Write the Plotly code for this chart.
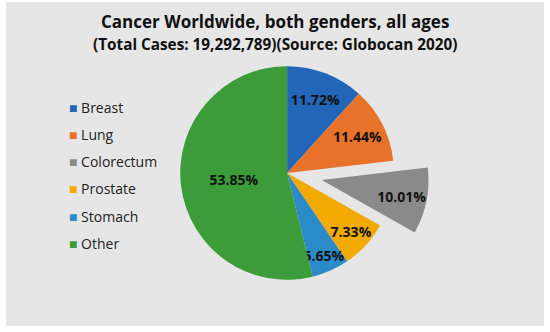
import plotly.graph_objects as go

categories = ["Breast", "Lung", "Colorectum", "Prostate", "Stomach", "Other"]
values = [11.72, 11.44, 10.01, 7.33, 5.65, 53.85]
pulls = [0, 0, 0.33, 0, 0, 0]
colors = ["#2266b8", "#e8722a", "#8a8a8a", "#f2aa00", "#2a8bc8", "#3c9c3a"]

W, H = 550, 332
FONT = "Open Sans"

fig = go.Figure()
fig.add_trace(go.Pie(
    labels=categories,
    values=values,
    pull=pulls,
    sort=False,
    direction="clockwise",
    rotation=0,
    marker=dict(colors=colors, line=dict(width=0)),
    texttemplate="<b>%{value:.2f}%</b>",
    textposition="inside",
    insidetextorientation="horizontal",
    textfont=dict(family=FONT, size=14, color="#111111"),
    hoverinfo="label+value",
    showlegend=False,
    domain=dict(x=[0.263, 0.781], y=[0.051, 0.907]),
))

annotations = [
    dict(text="<b>Cancer Worldwide, both genders, all ages</b>",
         x=0.5, y=1 - 21 / H, xref="paper", yref="paper", yanchor="middle",
         showarrow=False, font=dict(family=FONT, size=17, color="#111111")),
    dict(text="<b>(Total Cases: 19,292,789)(Source: Globocan 2020)</b>",
         x=0.5, y=1 - 44 / H, xref="paper", yref="paper", yanchor="middle",
         showarrow=False, font=dict(family=FONT, size=15.3, color="#111111")),
]
# legend drawn as annotations (square glyph + label)
for i, (cat, col) in enumerate(zip(categories, colors)):
    annotations.append(dict(
        text=f"<span style='color:{col}'>■</span> {cat}",
        x=67 / W, y=1 - (107 + i * 27.3) / H, xref="paper", yref="paper",
        xanchor="left", yanchor="middle", showarrow=False,
        font=dict(family=FONT, size=14, color="#222222"),
    ))

fig.update_layout(
    width=W, height=H,
    margin=dict(l=0, r=0, t=0, b=0),
    paper_bgcolor="white",
    plot_bgcolor="white",
    showlegend=False,
    uniformtext=dict(minsize=14, mode="show"),
    shapes=[dict(type="rect", xref="paper", yref="paper",
                 x0=6 / W, x1=544 / W, y0=1 - 326 / H, y1=1 - 2 / H,
                 fillcolor="#e6e6e6", line=dict(width=0), layer="below")],
    annotations=annotations,
)

fig.write_html("out.html", config={"displayModeBar": False},
               post_script="document.body.style.margin='0';")
